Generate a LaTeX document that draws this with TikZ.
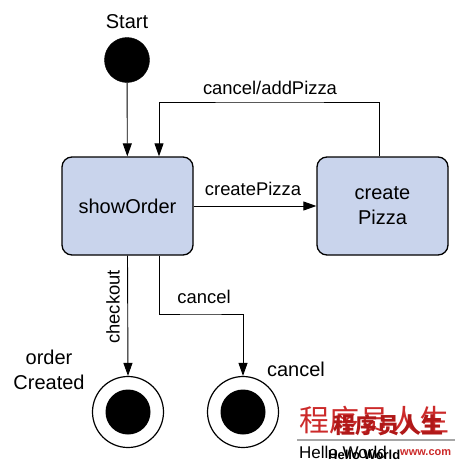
\documentclass[tikz,border=0pt]{standalone}
\usepackage{fontspec}
\setmainfont{Liberation Sans}
\newfontfamily\cjk{Noto Sans CJK SC}
\usetikzlibrary{arrows.meta}
\definecolor{stateblue}{HTML}{C9D4EC}
\definecolor{wmred}{HTML}{CC2A2A}
\definecolor{wmdark}{HTML}{B01818}
\begin{document}
\begin{tikzpicture}[x=1pt,y=-1pt,
  statebox/.style={draw, line width=1.3pt, rounded corners=10pt, fill=stateblue,
    minimum width=131pt, minimum height=98pt, align=center,
    font=\fontsize{20}{25}\selectfont},
  conn/.style={draw, line width=0.9pt, -{Triangle[length=13pt,width=9pt]}},
  edgelabel/.style={font=\fontsize{18.4}{22}\selectfont, inner sep=0pt},
  statelabel/.style={font=\fontsize{20}{25}\selectfont, inner sep=0pt, align=center},
  initstate/.style={circle, fill=black, draw=black, minimum size=45pt, inner sep=0pt},
  finalouter/.style={circle, draw=black, line width=1.2pt, fill=white, minimum size=71pt, inner sep=0pt},
  finalinner/.style={circle, fill=black, minimum size=45pt, inner sep=0pt},
]
\useasboundingbox (0,0) rectangle (460,463);
\fill[white] (0,0) rectangle (460,463);

% states
\node[statelabel] (startlbl) at (127,22) {Start};
\node[initstate] (start) at (127,60) {};
\node[statebox] (showOrder) at (127.5,206) {showOrder};
\node[statebox] (createPizza) at (382.5,206) {create\\Pizza};
\node[finalouter] (final1) at (128,412) {};
\node[finalinner] (final1in) at (final1.center) {};
\node[finalouter] (final2) at (243,412) {};
\node[finalinner] (final2in) at (final2.center) {};
\node[statelabel] (orderlbl) at (49,370) {order\\Created};
\node[statelabel] (cancellbl) at (296,369) {cancel};

% connectors
\coordinate (topturn) at (270,102);
\coordinate (cancelturn) at (200,314);
\draw[conn] (start) -- (showOrder);
\draw[conn] (showOrder) -- (createPizza);
\draw[conn] ([xshift=-3.5pt]createPizza.north) |- (topturn) -| ([xshift=31.5pt]showOrder.north);
\draw[conn] (showOrder.south) -- (final1.north);
\draw[conn] ([xshift=31.5pt]showOrder.south) |- (cancelturn) -| (final2.north);

% edge labels
\node[edgelabel] (lblAdd) at (270,88) {cancel/addPizza};
\node[edgelabel] (lblCreate) at (253,189) {createPizza};
\node[edgelabel, rotate=90] (lblCheckout) at (113,307) {checkout};
\node[edgelabel] (lblCancel) at (204,297) {cancel};

% watermark
\node[inner sep=0pt, text=wmred, font=\cjk\fontsize{30}{30}\selectfont] (wm1) at (374,420) {程序员人生};
\node[inner sep=0pt, text=wmdark, font=\cjk\bfseries\fontsize{22}{22}\selectfont] (wm2) at (388,425) {程序员人生};
\coordinate (wmruleL) at (297,440);
\coordinate (wmruleR) at (455,440);
\draw[line width=2.5pt, gray!70] (wmruleL) -- (wmruleR);
\node[inner sep=0pt, anchor=west, font=\fontsize{17}{17}\selectfont] (wm3) at (299,452) {Hello World};
\node[inner sep=0pt, anchor=west, font=\bfseries\fontsize{13}{13}\selectfont] (wm4) at (328,455) {Hello World};
\node[inner sep=0pt, anchor=west, text=wmred, font=\bfseries\fontsize{11}{11}\selectfont] (wm5) at (400,453) {www.com};
\end{tikzpicture}
\end{document}
